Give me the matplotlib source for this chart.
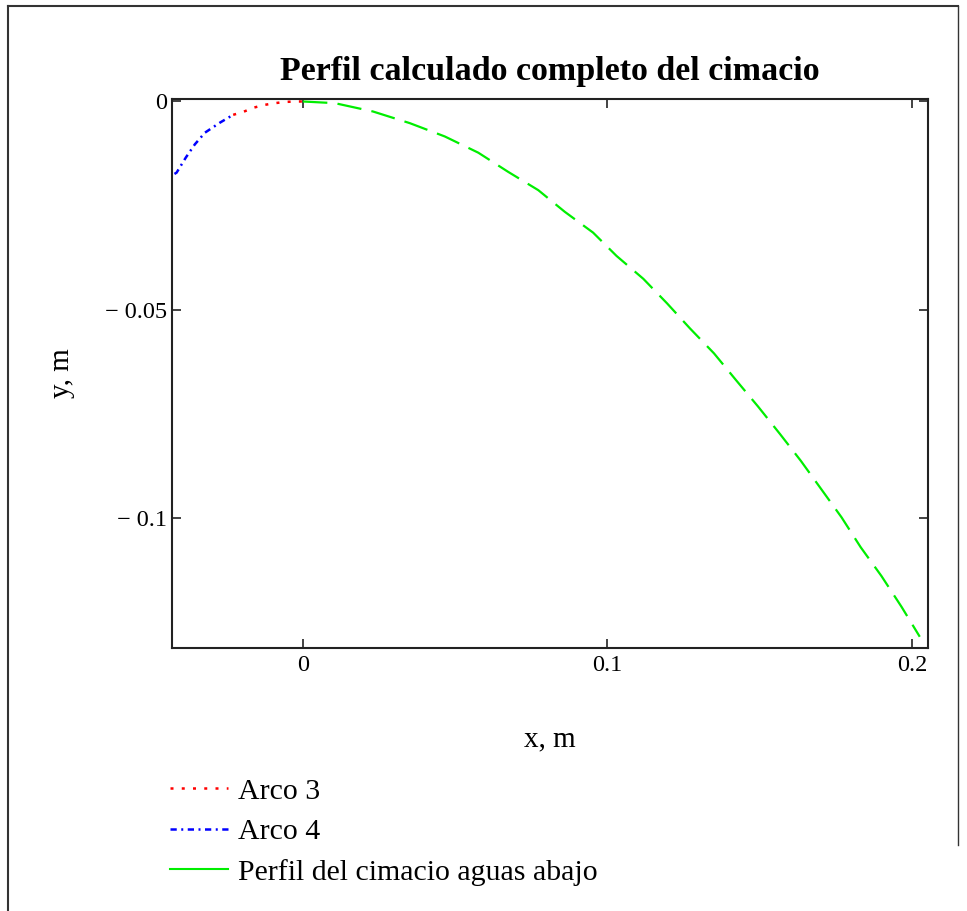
import numpy as np
import matplotlib.pyplot as plt
from matplotlib.lines import Line2D

plt.rcParams['font.family'] = ['Liberation Serif', 'DejaVu Serif']

# Arco 4 (upstream circular arc, outer part)
arco4_x = [-0.0422, -0.0415, -0.0384, -0.0355, -0.0322, -0.0273, -0.0229]
arco4_y = [-0.0174, -0.0171, -0.0134, -0.0103, -0.0075, -0.0051, -0.0032]

# Arco 3 (upstream circular arc, near the crest)
arco3_x = [-0.0229, -0.0196, -0.0163, -0.0125, -0.0092, -0.0059, -0.0021, 0.0]
arco3_y = [-0.0032, -0.0025, -0.0015, -0.0008, -0.0004, -0.0001, 0.0, 0.0]

# downstream crest profile
perfil_x = [0.0, 0.0105, 0.0230, 0.0351, 0.0466, 0.0576, 0.0674, 0.0773,
            0.0860, 0.0953, 0.1030, 0.1118, 0.1196, 0.1271, 0.1350, 0.1422,
            0.1495, 0.1567, 0.1635, 0.1703, 0.1769, 0.1832, 0.1900, 0.1966,
            0.2026]
perfil_y = [0.0, -0.0004, -0.0024, -0.0052, -0.0084, -0.0123, -0.0169, -0.0213,
            -0.0265, -0.0315, -0.0371, -0.0426, -0.0485, -0.0545, -0.0605, -0.0669,
            -0.0733, -0.0799, -0.0863, -0.0932, -0.0999, -0.1071, -0.1140, -0.1214,
            -0.1286]

xticks = [0.0, 0.1, 0.2]
xtick_labels = ['0', '0.1', '0.2']
yticks = [0.0, -0.05, -0.1]
ytick_labels = ['0', '\u2212 0.05', '\u2212 0.1']

fig = plt.figure(figsize=(9.67, 9.11), dpi=100)
ax = fig.add_axes([172/967, 1 - 648/911, 756/967, 549/911])

ax.plot(arco3_x, arco3_y, color='#ff0000', lw=1.8, dashes=(1.2, 3.3), label='Arco 3')
ax.plot(arco4_x, arco4_y, color='#0000ff', lw=1.8, dashes=(2.5, 1.8, 0.8, 1.8), label='Arco 4')
ax.plot(perfil_x, perfil_y, color='#00ee00', lw=1.6, dashes=(11, 4.6),
        label='Perfil del cimacio aguas abajo')

ax.set_xlim(-0.0430, 0.2053)
ax.set_ylim(-0.1313, 0.0006)
ax.set_xticks(xticks)
ax.set_xticklabels(xtick_labels)
ax.set_yticks(yticks)
ax.set_yticklabels(ytick_labels)
ax.tick_params(direction='in', length=6.5, width=1.2, top=True, right=True,
               labelsize=17.5, color='#222222')
ax.tick_params(axis='x', pad=5)
ax.tick_params(axis='y', pad=3.5)
for s in ax.spines.values():
    s.set_linewidth(1.5)
    s.set_color('#222222')

ax.set_title('Perfil calculado completo del cimacio', fontsize=24.5, fontweight='bold', pad=14)
ax.set_xlabel('x, m', fontsize=21)
ax.set_ylabel('y, m', fontsize=21)
ax.xaxis.set_label_coords(0.5, -0.142)
ax.yaxis.set_label_coords(-0.128, 0.5)

# legend under the plot
handles = [Line2D([], [], color='#ff0000', lw=1.8, dashes=(1.2, 3.3)),
           Line2D([], [], color='#0000ff', lw=1.8, dashes=(2.5, 1.8, 0.8, 1.8)),
           Line2D([], [], color='#00ee00', lw=1.5)]
labels = ['Arco 3', 'Arco 4', 'Perfil del cimacio aguas abajo']
fig.legend(handles, labels, loc='upper left', bbox_to_anchor=(170/967, 1 - 778/911),
           frameon=False, fontsize=21.5, handlelength=1.95, handletextpad=0.33,
           labelspacing=0.45, borderpad=0, borderaxespad=0)

# region border
fig.add_artist(Line2D([8/967, 8/967], [0, 1 - 6/911], transform=fig.transFigure, color='#333333', lw=1.5))
fig.add_artist(Line2D([8/967, 958/967], [1 - 6/911, 1 - 6/911], transform=fig.transFigure, color='#333333', lw=1.5))
fig.add_artist(Line2D([958/967, 958/967], [1 - 6/911, 1 - 845/911], transform=fig.transFigure, color='#333333', lw=1.0))

fig.savefig('out.png', dpi=100)
